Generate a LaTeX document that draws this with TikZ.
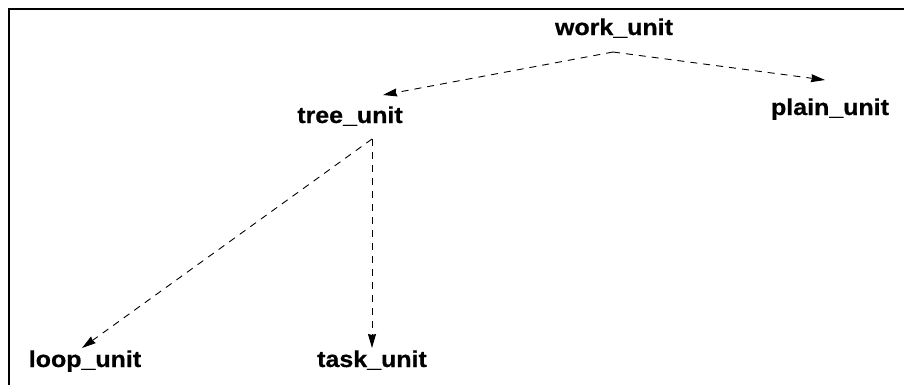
\documentclass[tikz,border=0pt]{standalone}
\usepackage{fontspec}
\setmainfont{Liberation Sans}
\newfontfamily\lblfont[FakeStretch=1.09,FakeBold=0.6]{Liberation Sans}
\usetikzlibrary{arrows.meta}
\begin{document}
\begin{tikzpicture}[x=1bp,y=-1bp,
  lbl/.style={anchor=base,inner sep=0pt,font=\lblfont\fontsize{23}{27}\selectfont\bfseries},
  link/.style={line width=0.9bp,dash pattern=on 7bp off 6bp,-{Stealth[length=14bp,width=8bp,inset=1bp]}}]
\useasboundingbox (0,0) rectangle (904,385);
\draw[line width=2.4bp] (9,385) -- (9,9) -- (904,9);
\node[lbl] (work) at (614,35) {work\_unit};
\node[lbl] (tree) at (350,123) {tree\_unit};
\node[lbl] (plain) at (830,115) {plain\_unit};
\node[lbl] (loop) at (85,367) {loop\_unit};
\node[lbl] (task) at (372,367) {task\_unit};
\coordinate (workout) at (613,52);
\coordinate (treein) at (383,95);
\coordinate (plainin) at (825,80);
\coordinate (treeout) at (372,139);
\coordinate (loopin) at (82,348);
\coordinate (taskin) at (372,348);
\draw[link] (workout) -- (treein);
\draw[link] (workout) -- (plainin);
\draw[link] (treeout) -- (loopin);
\draw[link] (treeout) -- (taskin);
\end{tikzpicture}
\end{document}
